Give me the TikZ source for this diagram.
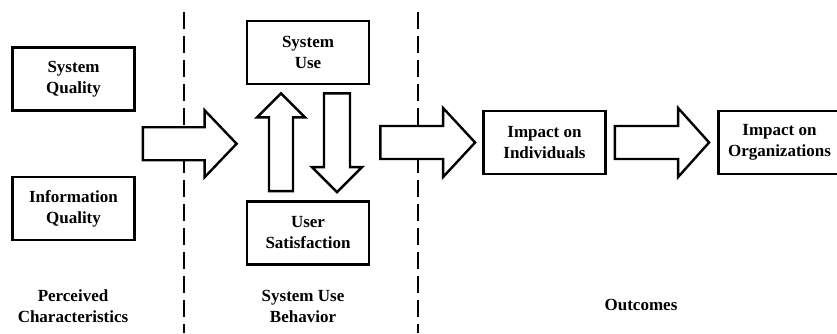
\documentclass[tikz,border=0pt]{standalone}
\usepackage{fontspec}
\setmainfont{Liberation Serif}
\usetikzlibrary{calc}

\tikzset{
  box/.style={draw, line width=2.8pt, minimum width=122pt, minimum height=63pt,
    align=center, inner sep=2pt},
  blockarrow/.style={draw, line width=2.4pt, fill=white, line join=miter},
  sepline/.style={line width=2pt, dash pattern=on 17pt off 7pt},
  caption/.style={align=center}
}

%% block arrow: shaft half width, head half width, head length, from, to
\newcommand{\fatarrow}[5]{%
  \coordinate (hb) at ($(#5)!#3!(#4)$);
  \draw[blockarrow] ($(#4)!#1!90:(#5)$) -- ($(hb)!#1!90:(#5)$) -- ($(hb)!#2!90:(#5)$)
    -- (#5) -- ($(hb)!#2!-90:(#5)$) -- ($(hb)!#1!-90:(#5)$) -- ($(#4)!#1!-90:(#5)$) -- cycle;
}

\begin{document}
\begin{tikzpicture}[x=1pt, y=-1pt, font=\fontsize{17}{21}\selectfont\bfseries]
  \useasboundingbox (0,0) rectangle (837,333);
  \clip (0,0) rectangle (837,333);

  %% separators
  \draw[sepline] (183.5,12) -- (183.5,333);
  \draw[sepline] (417.5,12) -- (417.5,333);

  %% boxes
  \node[box] (sysq) at (73.5,79) {System\\Quality};
  \node[box] (infq) at (73.5,208.5) {Information\\Quality};
  \node[box] (sysuse) at (308,52.5) {System\\Use};
  \node[box] (usersat) at (308,233) {User\\Satisfaction};
  \node[box] (impind) at (544.5,142.5) {Impact on\\Individuals};
  \node[box] (imporg) at (779.5,142.5) {Impact on\\Organizations};

  %% column captions
  \node[caption] (percap) at (73,306) {Perceived\\Characteristics};
  \node[caption] (usecap) at (303,306) {System Use\\Behavior};
  \node[caption] (outcap) at (641,305) {Outcomes};

  %% arrow ends
  \coordinate (a1s) at ($(sysq.east)!.5!(infq.east)+(7,0)$);
  \coordinate (a1t) at ($(a1s -| sysuse.west)+(-9,0)$);
  \coordinate (a2s) at ($(impind.west -| usersat.east)+(10,0)$);
  \coordinate (a2t) at ($(impind.west)+(-7,0)$);
  \coordinate (a3s) at ($(impind.east)+(8,0)$);
  \coordinate (a3t) at ($(imporg.west)+(-8,0)$);
  \coordinate (ups) at ($(usersat.north)+(-27,-9)$);
  \coordinate (upt) at ($(sysuse.south)+(-27,8)$);
  \coordinate (dns) at ($(sysuse.south)+(29,8)$);
  \coordinate (dnt) at ($(usersat.north)+(29,-8)$);

  \fatarrow{16.5pt}{33.5pt}{32pt}{a1s}{a1t} %% characteristics -> behavior
  \fatarrow{16.5pt}{34.5pt}{32pt}{a2s}{a2t} %% behavior -> individuals
  \fatarrow{16.5pt}{34.5pt}{31pt}{a3s}{a3t} %% individuals -> organizations
  \fatarrow{12pt}{24pt}{24pt}{ups}{upt}     %% satisfaction -> use
  \fatarrow{13pt}{25pt}{25pt}{dns}{dnt}     %% use -> satisfaction
\end{tikzpicture}
\end{document}
